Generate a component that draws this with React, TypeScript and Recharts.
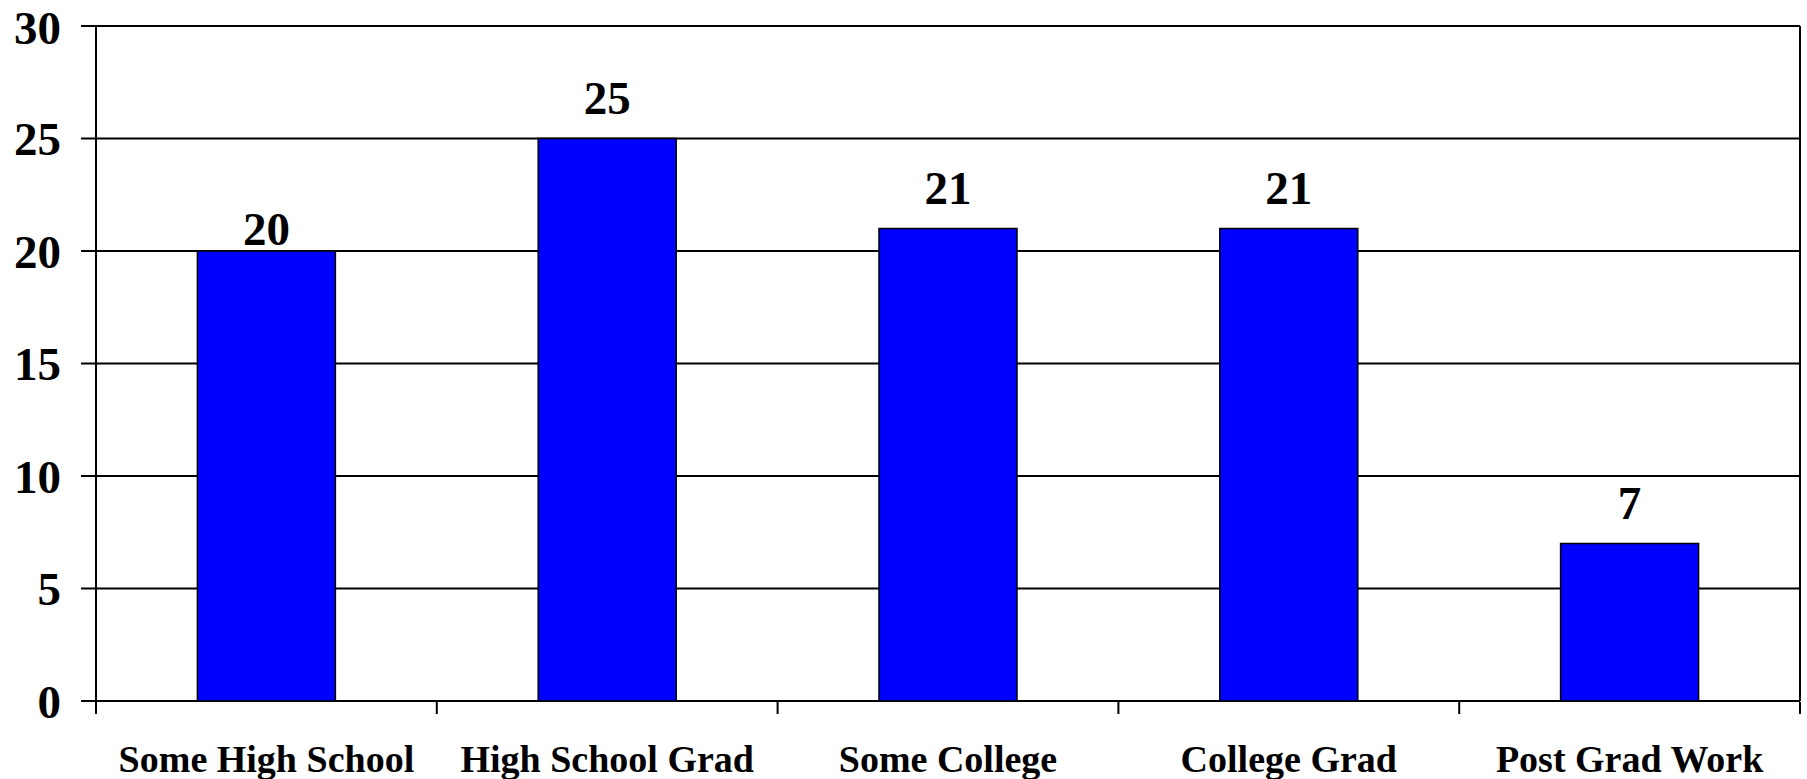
import React from 'react';
import { BarChart, Bar, XAxis, YAxis, CartesianGrid, LabelList } from 'recharts';

const categories = ['Some High School', 'High School Grad', 'Some College', 'College Grad', 'Post Grad Work'];
const values = [20, 25, 21, 21, 7];
const yTicks = [0, 5, 10, 15, 20, 25, 30];
const boundaryTicks = [0, 1, 2, 3, 4, 5];

const data = categories.map((name, i) => ({ name, value: values[i], slot: i }));

const font = '"Liberation Serif", "Times New Roman", serif';

// the first value label sits lower than the others in the original
const renderValueLabel = (props: any) => {
  const { x, y, width, value, index } = props;
  const gap = index === 0 ? 6 : 25;
  return (
    <text
      x={Number(x) + Number(width) / 2}
      y={Number(y) - gap}
      textAnchor="middle"
      fill="#000"
      style={{ fontSize: 47, fontWeight: 700, fontFamily: font }}
    >
      {value}
    </text>
  );
};

const App: React.FC = () => {
  return (
    <div style={{ position: 'absolute', left: 0, top: 0, background: '#fff' }}>
      <BarChart
        width={1807}
        height={779}
        data={data}
        margin={{ top: 26, right: 6, bottom: 0, left: 0 }}
        barCategoryGap="29.75%"
      >
        <CartesianGrid vertical={false} stroke="#000" strokeWidth={2} strokeOpacity={1} />
        {/* category labels: thin slot right under the plot, text drawn below */}
        <XAxis
          dataKey="name"
          axisLine={false}
          tickLine={false}
          tickSize={0}
          tickMargin={44}
          height={1}
          interval={0}
          tick={{ fill: '#000', fontSize: 38, fontWeight: 700, fontFamily: font }}
        />
        {/* tick marks between the categories, no labels */}
        <XAxis
          xAxisId="bounds"
          dataKey="slot"
          type="number"
          domain={[0, 5]}
          ticks={boundaryTicks}
          interval={0}
          tick={() => <g />}
          tickSize={12}
          tickLine={{ stroke: '#000', strokeWidth: 2 }}
          axisLine={false}
          height={77}
          allowDataOverflow
        />
        <YAxis
          domain={[0, 30]}
          ticks={yTicks}
          width={96}
          tickSize={15}
          tickMargin={20}
          axisLine={{ stroke: '#000', strokeWidth: 2 }}
          tickLine={{ stroke: '#000', strokeWidth: 2 }}
          tick={{ fill: '#000', fontSize: 47, fontWeight: 700, fontFamily: font }}
        />
        <YAxis
          yAxisId="right"
          orientation="right"
          domain={[0, 30]}
          width={1}
          tick={false}
          tickLine={false}
          axisLine={{ stroke: '#000', strokeWidth: 2 }}
        />
        <Bar dataKey="value" fill="#0000FF" stroke="#000" strokeWidth={1.5} isAnimationActive={false}>
          <LabelList dataKey="value" content={renderValueLabel} />
        </Bar>
      </BarChart>
    </div>
  );
};

export default App;
